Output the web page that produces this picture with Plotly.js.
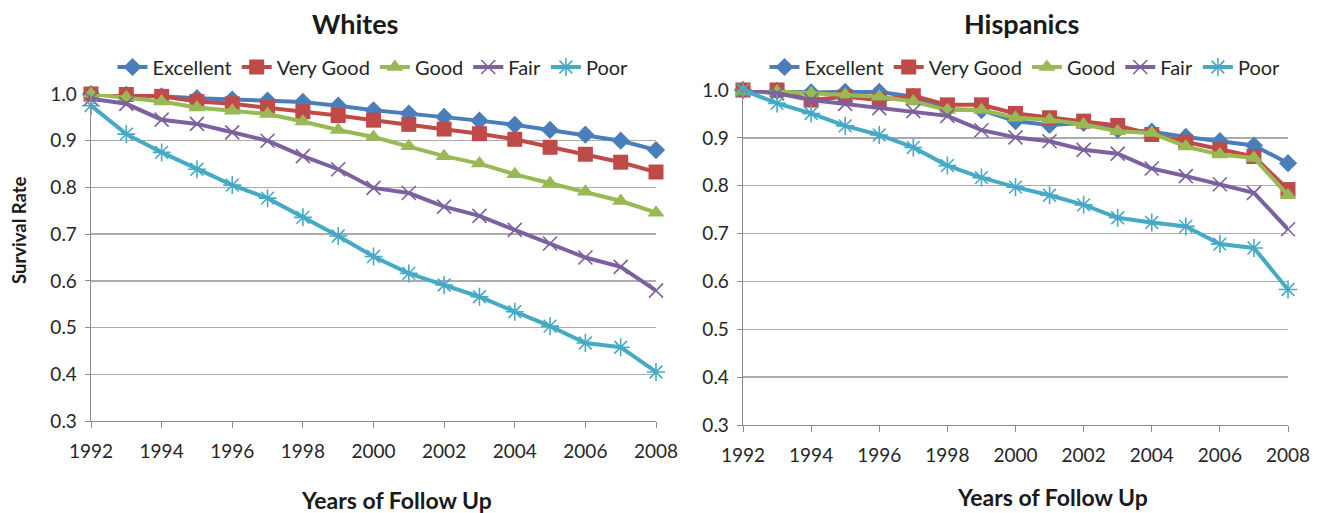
<!DOCTYPE html>
<html>
<head>
<meta charset="utf-8">
<script src="https://cdn.plot.ly/plotly-3.0.1.min.js"></script>
<style>
html,body{margin:0;padding:0;background:#fff;}
#chart{width:1325px;height:513px;}
</style>
</head>
<body>
<div id="chart"></div>
<script>
// ---- data ----
const years = [1992,1993,1994,1995,1996,1997,1998,1999,2000,2001,2002,2003,2004,2005,2006,2007,2008];
const categories = ["Excellent","Very Good","Good","Fair","Poor"];

const whitesExcellent = [1.000,0.998,0.995,0.991,0.988,0.986,0.983,0.975,0.965,0.958,0.951,0.943,0.934,0.923,0.913,0.900,0.880];
const whitesVeryGood  = [1.000,0.999,0.995,0.984,0.979,0.971,0.962,0.954,0.944,0.935,0.925,0.915,0.903,0.886,0.871,0.854,0.833];
const whitesGood      = [1.000,0.993,0.984,0.971,0.964,0.957,0.941,0.923,0.908,0.888,0.867,0.851,0.828,0.809,0.791,0.771,0.746];
const whitesFair      = [0.990,0.979,0.945,0.936,0.918,0.900,0.867,0.839,0.799,0.788,0.759,0.739,0.709,0.680,0.650,0.630,0.579];
const whitesPoor      = [0.975,0.914,0.875,0.839,0.805,0.777,0.736,0.696,0.652,0.616,0.591,0.566,0.534,0.503,0.467,0.458,0.405];

const hispExcellent = [1.000,0.998,0.995,0.996,0.996,0.986,0.960,0.958,0.935,0.927,0.931,0.917,0.913,0.902,0.893,0.884,0.847];
const hispVeryGood  = [1.000,1.000,0.979,0.986,0.979,0.988,0.969,0.969,0.951,0.942,0.935,0.926,0.907,0.891,0.875,0.861,0.792];
const hispGood      = [0.997,0.997,0.993,0.990,0.986,0.976,0.958,0.958,0.942,0.938,0.928,0.914,0.910,0.882,0.865,0.858,0.780];
const hispFair      = [1.000,0.993,0.979,0.971,0.962,0.956,0.946,0.916,0.901,0.893,0.875,0.867,0.836,0.820,0.803,0.785,0.709];
const hispPoor      = [1.000,0.972,0.951,0.925,0.906,0.880,0.842,0.817,0.797,0.780,0.760,0.733,0.723,0.715,0.678,0.670,0.583];

const yTickVals = [0.3,0.4,0.5,0.6,0.7,0.8,0.9,1.0];
const yTickText = ["0.3","0.4","0.5","0.6","0.7","0.8","0.9","1.0"];

// ---- styles ----
const colors  = ["#4A7EBB","#BE4B48","#98B954","#7D60A0","#46AAC5"];
const symbols = ["diamond","square","triangle-up","x-thin","asterisk"];
const sizes   = [14,15,15,14,15];
const FONT = "Lato, 'Open Sans', sans-serif";

const whites = [whitesExcellent, whitesVeryGood, whitesGood, whitesFair, whitesPoor];
const hisp   = [hispExcellent, hispVeryGood, hispGood, hispFair, hispPoor];

function makeTrace(i, vals, xa, ya, leg){
  const thin = (symbols[i]==="x-thin" || symbols[i]==="asterisk");
  return {
    type:"scatter", mode:"lines+markers",
    x: years, y: vals, name: categories[i],
    xaxis: xa, yaxis: ya, legend: leg,
    cliponaxis:false,
    line:{color:colors[i], width:4},
    marker:{symbol:symbols[i], size:sizes[i], color:colors[i],
            line:{color:colors[i], width: thin?1.6:0}}
  };
}

const data = [];
whites.forEach((v,i)=>data.push(makeTrace(i,v,"x","y","legend")));
hisp.forEach((v,i)=>data.push(makeTrace(i,v,"x2","y2","legend2")));

const W=1325, H=513;
function axX(d){
  return {domain:d, range:[1992,2008], tick0:1992, dtick:2, showgrid:false, zeroline:false,
    showline:true, linecolor:"#8c8c8c", linewidth:1.3, ticks:"outside", ticklen:6, tickcolor:"#8c8c8c",
    tickfont:{family:FONT, size:19, color:"#262626"}, ticklabelstandoff:7, fixedrange:true};
}
function axY(d, anchor){
  return {domain:d, anchor:anchor, range:[0.3,1.0], tickvals:yTickVals, ticktext:yTickText,
    showgrid:true, gridcolor:"#ababab", gridwidth:1.3, zeroline:false,
    showline:true, linecolor:"#8c8c8c", linewidth:1.3, ticks:"outside", ticklen:5, tickcolor:"#8c8c8c",
    tickfont:{family:FONT, size:19, color:"#262626"}, ticklabelstandoff:4, fixedrange:true};
}

const legBase = {orientation:"h", yanchor:"middle", xanchor:"center", font:{family:FONT, size:20, color:"#262626"},
  bgcolor:"rgba(0,0,0,0)", itemwidth:30, tracegroupgap:0};

const layout = {
  width:W, height:H, margin:{l:0,r:0,t:0,b:0}, paper_bgcolor:"#fff", plot_bgcolor:"#fff",
  font:{family:FONT, color:"#262626"},
  xaxis: Object.assign(axX([91/W, 656/W]), {anchor:"y"}),
  yaxis: axY([(H-421)/H, (H-94)/H], "x"),
  xaxis2: Object.assign(axX([743/W, 1288/W]), {anchor:"y2"}),
  yaxis2: axY([(H-425)/H, (H-90)/H], "x2"),
  legend: Object.assign({}, legBase, {x:373/W, y:(H-67)/H}),
  legend2: Object.assign({}, legBase, {x:1025/W, y:(H-67)/H}),
  annotations:[
    {text:"<b>Whites</b>", xref:"paper", yref:"paper", x:355/W, y:(H-23)/H, xanchor:"center", yanchor:"middle", showarrow:false, font:{family:FONT,size:27,color:"#1a1a1a"}},
    {text:"<b>Hispanics</b>", xref:"paper", yref:"paper", x:1021/W, y:(H-23)/H, xanchor:"center", yanchor:"middle", showarrow:false, font:{family:FONT,size:27,color:"#1a1a1a"}},
    {text:"<b>Years of Follow Up</b>", xref:"paper", yref:"paper", x:396/W, y:(H-500)/H, xanchor:"center", yanchor:"middle", showarrow:false, font:{family:FONT,size:23,color:"#1a1a1a"}},
    {text:"<b>Years of Follow Up</b>", xref:"paper", yref:"paper", x:1052/W, y:(H-497)/H, xanchor:"center", yanchor:"middle", showarrow:false, font:{family:FONT,size:23,color:"#1a1a1a"}},
    {text:"<b>Survival Rate</b>", xref:"paper", yref:"paper", x:19/W, y:(H-230)/H, xanchor:"center", yanchor:"middle", textangle:-90, showarrow:false, font:{family:FONT,size:18.5,color:"#1a1a1a"}}
  ]
};

Plotly.newPlot("chart", data, layout, {displayModeBar:false, staticPlot:true});
</script>
</body>
</html>
